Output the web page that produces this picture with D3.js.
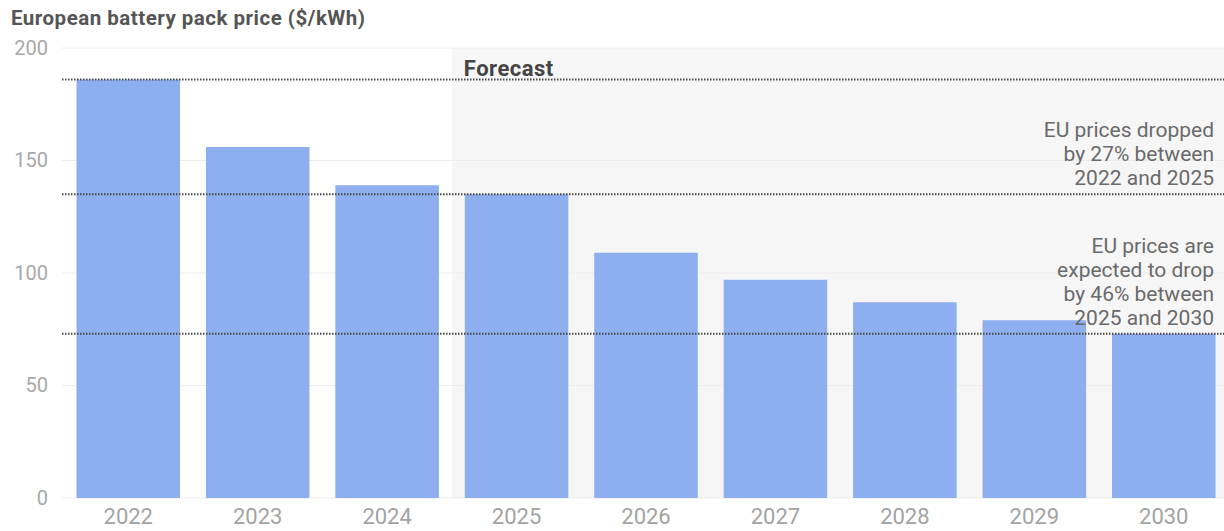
<!DOCTYPE html>
<html>
<head>
<meta charset="utf-8">
<script src="https://cdn.jsdelivr.net/npm/d3@7/dist/d3.min.js"></script>
<style>
  html, body { margin: 0; padding: 0; background: #fff; }
  svg { display: block; font-family: Roboto, "Noto Sans", sans-serif; }
</style>
</head>
<body>
<svg id="chart" width="1224" height="531"></svg>
<script>
// Battery pack prices, $/kWh
const years = ["2022", "2023", "2024", "2025", "2026", "2027", "2028", "2029", "2030"];
const prices = [186, 156, 139, 135, 109, 97, 87, 79, 73];
const yTicks = [0, 50, 100, 150, 200];
const forecastStart = "2025";
// Reference lines: 2022 level, 2025 level, 2030 level
const refValues = [186, 135, 73];
const notes = [
  { value: 135, lines: ["EU prices dropped", "by 27% between", "2022 and 2025"] },
  { value: 73, lines: ["EU prices are", "expected to drop", "by 46% between", "2025 and 2030"] }
];

const plotLeft = 62, plotRight = 1224, plotTop = 48, plotBottom = 498;

const svg = d3.select("#chart");

const x = d3.scaleBand()
  .domain(years)
  .range([70, 1222])
  .paddingInner(0.2)
  .paddingOuter(0.05);

const y = d3.scaleLinear().domain([0, 200]).range([plotBottom, plotTop]);

// Title
svg.append("text")
  .attr("x", 11).attr("y", 25)
  .attr("font-size", 20.5).attr("font-weight", 700)
  .attr("letter-spacing", 0.5)
  .attr("fill", "#555")
  .text("European battery pack price ($/kWh)");

// Forecast shading
const fx = x(forecastStart) - x.step() * x.paddingInner() / 2;
svg.append("rect")
  .attr("x", fx).attr("y", y(200))
  .attr("width", plotRight - fx).attr("height", y(0) - y(200))
  .attr("fill", "#f6f6f6");

// Gridlines
svg.append("g")
  .selectAll("line")
  .data(yTicks)
  .join("line")
  .attr("x1", plotLeft).attr("x2", plotRight)
  .attr("y1", d => y(d)).attr("y2", d => y(d))
  .attr("stroke", "#ececec").attr("stroke-width", 1);

// Y axis labels
const yAxis = d3.axisLeft(y).tickValues(yTicks).tickSize(0).tickPadding(0);
svg.append("g")
  .attr("transform", "translate(48,0)")
  .call(yAxis)
  .call(g => g.select(".domain").remove())
  .call(g => g.selectAll("text")
    .attr("font-family", "Roboto, sans-serif")
    .attr("font-size", 20).attr("fill", "#a8a8a8"));

// Bars
svg.append("g")
  .selectAll("rect")
  .data(years.map((yr, i) => ({ yr, v: prices[i] })))
  .join("rect")
  .attr("x", d => x(d.yr))
  .attr("width", x.bandwidth())
  .attr("y", d => y(d.v))
  .attr("height", d => y(0) - y(d.v))
  .attr("fill", "#8daeef");

// X axis labels
const xAxis = d3.axisBottom(x).tickSize(0).tickPadding(0);
svg.append("g")
  .attr("transform", `translate(0,${plotBottom + 10})`)
  .call(xAxis)
  .call(g => g.select(".domain").remove())
  .call(g => g.selectAll("text")
    .attr("font-family", "Roboto, sans-serif")
    .attr("font-size", 22).attr("fill", "#a3a3a3"));

// Dotted reference lines
svg.append("g")
  .selectAll("line")
  .data(refValues)
  .join("line")
  .attr("x1", plotLeft).attr("x2", plotRight)
  .attr("y1", d => y(d)).attr("y2", d => y(d))
  .attr("stroke", "#4a4a4a").attr("stroke-width", 2)
  .attr("stroke-dasharray", "1.5,1.5");

// Forecast label
svg.append("text")
  .attr("x", fx + 12).attr("y", y(186) - 4)
  .attr("font-size", 22).attr("font-weight", 700)
  .attr("letter-spacing", 0.5)
  .attr("fill", "#444")
  .text("Forecast");

// Annotations, right-aligned above each reference line
const lh = 24;
notes.forEach(n => {
  const t = svg.append("text")
    .attr("text-anchor", "end")
    .attr("font-size", 21).attr("fill", "#6a6a6a");
  const base = y(n.value) - 9 - (n.lines.length - 1) * lh;
  n.lines.forEach((l, i) => {
    t.append("tspan").attr("x", 1214).attr("y", base + i * lh).text(l);
  });
});
</script>
</body>
</html>
